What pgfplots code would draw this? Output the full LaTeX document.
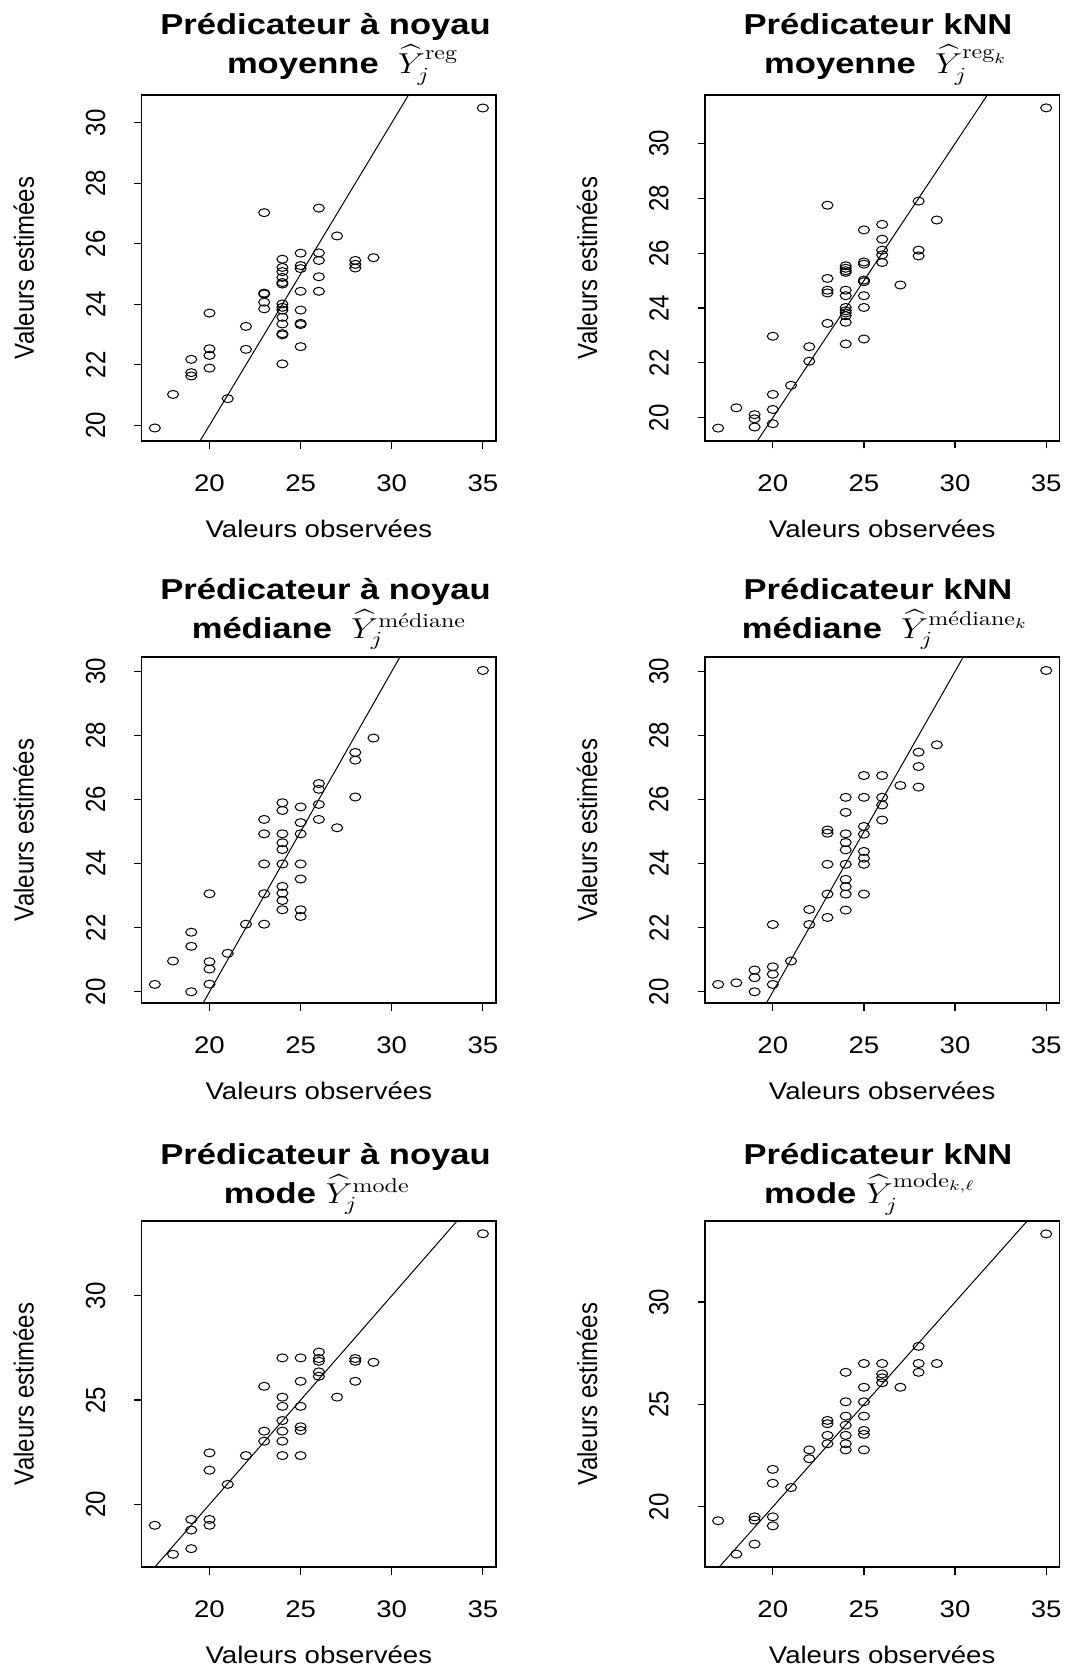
\documentclass[border=0pt]{standalone}
\usepackage{amsmath}
\usepackage{graphicx}
\usepackage{fontspec}
\usepackage{pgfplots}
\pgfplotsset{compat=1.18}
\newfontfamily\arial{Liberation Sans}
\newcommand\lab{\arial\fontsize{12}{14}\selectfont}
\newcommand\ttl{\arial\bfseries\fontsize{14.4}{17}\selectfont}
\newcommand\hs[1]{\scalebox{1.15}[1]{#1}}
\newcommand\vs[1]{\scalebox{1}[1.15]{#1}}
\newcommand\ts[1]{\scalebox{1.2}[1]{#1}}
\newcommand\supr[1]{\text{\rmfamily\mdseries\upshape #1}}

\pgfplotstableread{
x y
35 30.49
23 27.03
26 27.18
27 26.26
29 25.54
28 25.45
28 25.32
28 25.20
25 25.69
25 25.28
25 25.18
26 25.70
26 25.45
26 24.91
26 24.43
25 24.43
25 23.81
25 23.37
25 23.33
25 22.60
24 25.49
24 25.22
24 25.08
24 24.89
24 24.72
24 24.67
24 24.01
24 23.90
24 23.81
24 23.57
24 23.35
24 23.03
24 22.99
24 22.03
23 24.37
23 24.34
23 24.07
23 23.85
22 23.27
22 22.51
20 23.71
20 22.53
20 22.31
20 21.89
19 22.18
19 21.74
19 21.63
18 21.02
21 20.88
17 19.91
}\tabA

\pgfplotstableread{
x y
35 31.30
23 27.75
28 27.90
29 27.21
26 27.05
25 26.85
26 26.51
26 26.11
26 25.94
26 25.66
28 26.11
28 25.90
25 25.68
25 25.60
24 25.54
24 25.45
24 25.36
24 25.30
23 25.08
23 24.65
23 24.55
25 25.02
25 24.96
24 24.65
24 24.45
25 24.45
25 24.02
24 24.02
24 23.90
24 23.82
24 23.72
24 23.48
27 24.84
23 23.44
25 22.87
24 22.69
22 22.59
22 22.06
20 22.97
21 21.18
20 20.85
18 20.36
20 20.30
19 20.11
19 19.96
19 19.66
20 19.78
17 19.62
}\tabB

\pgfplotstableread{
x y
35 30.03
29 27.92
28 27.47
28 27.23
28 26.08
26 26.50
26 26.32
26 25.85
26 25.38
27 25.12
24 25.90
24 25.66
25 25.77
25 25.28
25 24.93
23 25.38
23 24.93
24 24.93
24 24.65
24 24.44
23 23.99
24 23.99
25 23.99
25 23.52
24 23.29
24 23.08
24 22.85
24 22.56
25 22.56
25 22.35
23 23.06
22 22.11
23 22.11
20 23.06
19 21.86
19 21.42
18 20.96
20 20.94
20 20.71
21 21.20
17 20.23
20 20.24
19 20.00
}\tabC

\pgfplotstableread{
x y
35 30.03
29 27.71
28 27.48
28 27.03
28 26.39
27 26.44
25 26.75
26 26.75
24 26.07
25 26.07
26 26.07
26 25.83
26 25.36
24 25.60
23 25.05
23 24.95
24 24.93
25 25.16
25 24.92
24 24.66
24 24.43
25 24.38
25 24.17
25 23.98
23 23.98
24 23.98
24 23.51
24 23.28
24 23.05
23 23.05
25 23.05
24 22.55
22 22.57
23 22.32
22 22.10
20 22.10
21 20.96
20 20.78
20 20.55
19 20.68
19 20.44
20 20.23
19 20.00
18 20.28
17 20.23
}\tabD

\pgfplotstableread{
x y
35 32.97
26 27.30
26 26.99
26 26.86
28 26.99
28 26.86
29 26.81
24 27.02
25 27.02
26 26.35
26 26.14
28 25.90
25 25.90
23 25.66
27 25.14
24 25.14
24 24.70
25 24.70
24 24.02
25 23.72
25 23.54
23 23.51
23 23.03
24 23.51
24 23.03
22 22.34
24 22.34
25 22.34
20 22.47
20 21.64
21 20.96
19 19.28
19 18.77
20 19.28
20 19.00
17 19.00
19 17.88
18 17.61
}\tabE

\pgfplotstableread{
x y
35 33.33
28 27.84
25 27.00
26 27.00
28 27.00
29 27.00
28 26.57
24 26.57
26 26.49
26 26.30
26 26.06
27 25.84
25 25.84
24 25.13
25 25.13
24 24.43
25 24.43
23 24.22
23 24.06
24 23.99
23 23.49
23 23.08
24 23.49
24 23.08
24 22.78
25 23.73
25 23.54
25 22.78
22 22.78
22 22.35
20 21.83
20 21.15
21 20.94
19 19.51
19 19.35
20 19.51
20 19.07
17 19.32
19 18.18
18 17.69
}\tabF

\pgfplotsset{rstyle/.style={
  scale only axis, width=177.15pt, height=173pt,
  anchor=north west,
  xmin=16.28, xmax=35.72,
  xtick={20,25,30,35},
  axis line style={line width=0.6pt},
  tick align=outside, xtick pos=bottom, ytick pos=left,
  major tick length=3.75pt,
  every tick/.style={black, line width=0.6pt},
  minor tick num=0,
  xticklabel={\hs{\lab\pgfmathprintnumber[assume math mode=true]{\tick}}},
  yticklabel={\vs{\lab\pgfmathprintnumber[assume math mode=true]{\tick}}},
  xticklabel style={anchor=north, inner sep=0pt},
  yticklabel style={rotate=90, anchor=south, inner sep=0pt},
  xticklabel shift=13pt,
  yticklabel shift=14.25pt,
  xlabel={\hs{\lab Valeurs observées}},
  ylabel={\vs{\lab Valeurs estimées}},
  xlabel style={at={(axis description cs:0.5,-0.2536)}, anchor=center, inner sep=0pt},
  ylabel style={at={(axis description cs:-0.333,0.5)}, anchor=center, inner sep=0pt},
}}
\pgfplotsset{pts/.style={only marks, mark=o, mark size=2pt, black,
  mark options={xscale=1.38, line width=0.5pt}}}
\pgfplotsset{idl/.style={black, line width=0.5pt, no marks}}

\begin{document}
\begin{tikzpicture}
\useasboundingbox (0,0) rectangle (533.5pt,-834pt);

% Row 1
\begin{axis}[rstyle, at={(70.85pt,-47.5pt)}, ymin=19.48, ymax=30.92, ytick={20,22,24,26,28,30}]
\addplot[idl] coordinates {(10,10) (40,40)};
\addplot[pts] table[x=x,y=y] {\tabA};
\end{axis}
\begin{axis}[rstyle, at={(352.5pt,-47.5pt)}, ymin=19.15, ymax=31.77, ytick={20,22,24,26,28,30}]
\addplot[idl] coordinates {(10,10) (40,40)};
\addplot[pts] table[x=x,y=y] {\tabB};
\end{axis}

% Row 2
\begin{axis}[rstyle, at={(70.85pt,-328.5pt)}, ymin=19.65, ymax=30.45, ytick={20,22,24,26,28,30}]
\addplot[idl] coordinates {(10,10) (40,40)};
\addplot[pts] table[x=x,y=y] {\tabC};
\end{axis}
\begin{axis}[rstyle, at={(352.5pt,-328.5pt)}, ymin=19.65, ymax=30.45, ytick={20,22,24,26,28,30}]
\addplot[idl] coordinates {(10,10) (40,40)};
\addplot[pts] table[x=x,y=y] {\tabD};
\end{axis}

% Row 3
\begin{axis}[rstyle, at={(70.85pt,-610.5pt)}, ymin=17.0, ymax=33.58, ytick={20,25,30}]
\addplot[idl] coordinates {(10,10) (40,40)};
\addplot[pts] table[x=x,y=y] {\tabE};
\end{axis}
\begin{axis}[rstyle, at={(352.5pt,-610.5pt)}, ymin=17.06, ymax=33.96, ytick={20,25,30}]
\addplot[idl] coordinates {(10,10) (40,40)};
\addplot[pts] table[x=x,y=y] {\tabF};
\end{axis}

% Titles
\node[anchor=base, inner sep=0pt] at (162.8pt,-17.4pt) {\ttl\ts{Prédicateur à noyau}};
\node[anchor=base west, inner sep=0pt] at (113.3pt,-36.6pt) {\ttl\ts{moyenne\ \ $\widehat{Y}_j^{\mathrm{reg}}$}};
\node[anchor=base, inner sep=0pt] at (439pt,-17.4pt) {\ttl\ts{Prédicateur kNN}};
\node[anchor=base west, inner sep=0pt] at (381.9pt,-36.6pt) {\ttl\ts{moyenne\ \ $\widehat{Y}_j^{\mathrm{reg}_k}$}};

\node[anchor=base, inner sep=0pt] at (162.8pt,-299.7pt) {\ttl\ts{Prédicateur à noyau}};
\node[anchor=base west, inner sep=0pt] at (95.7pt,-319pt) {\ttl\ts{médiane\ \ $\widehat{Y}_j^{\supr{médiane}}$}};
\node[anchor=base, inner sep=0pt] at (439pt,-299.7pt) {\ttl\ts{Prédicateur kNN}};
\node[anchor=base west, inner sep=0pt] at (370.7pt,-319pt) {\ttl\ts{médiane\ \ $\widehat{Y}_j^{\supr{médiane}_k}$}};

\node[anchor=base, inner sep=0pt] at (162.8pt,-582.4pt) {\ttl\ts{Prédicateur à noyau}};
\node[anchor=base west, inner sep=0pt] at (111.7pt,-601.6pt) {\ttl\ts{mode $\widehat{Y}_j^{\mathrm{mode}}$}};
\node[anchor=base, inner sep=0pt] at (439pt,-582.4pt) {\ttl\ts{Prédicateur kNN}};
\node[anchor=base west, inner sep=0pt] at (381.9pt,-601.6pt) {\ttl\ts{mode $\widehat{Y}_j^{\mathrm{mode}_{k,\ell}}$}};
\end{tikzpicture}
\end{document}
